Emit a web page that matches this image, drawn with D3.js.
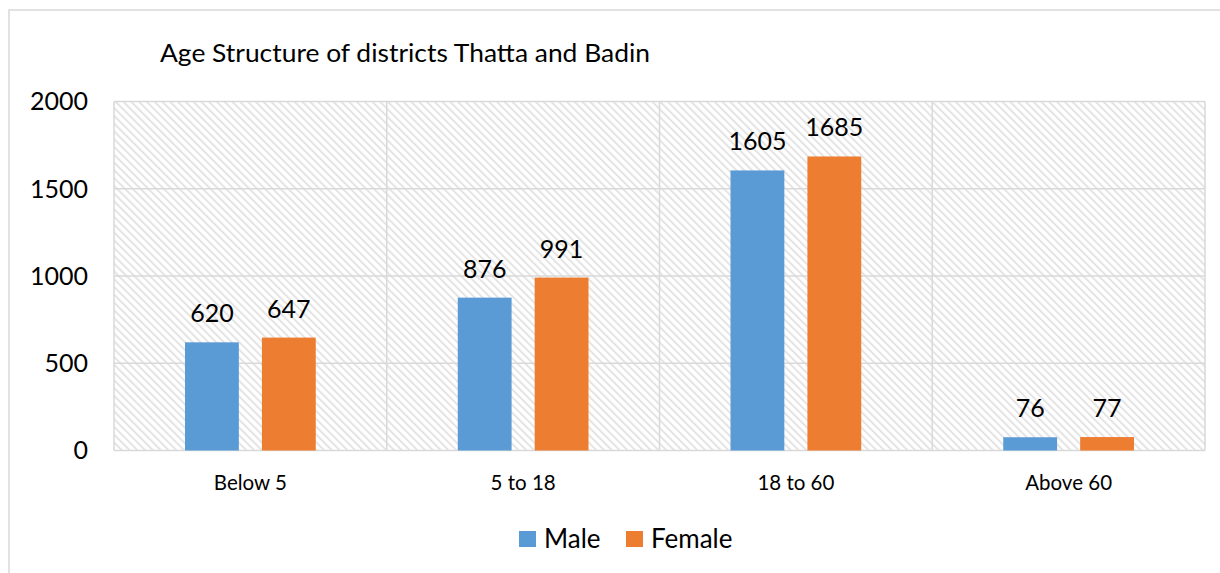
<!DOCTYPE html>
<html>
<head>
<meta charset="utf-8">
<script src="https://cdn.jsdelivr.net/npm/d3@7"></script>
<style>
  body { margin: 0; background: #fff; }
  text { font-family: Lato, "Open Sans", sans-serif; fill: #000; }
</style>
</head>
<body>
<div id="plot"></div>
<script>
// chart data
const categories = ["Below 5", "5 to 18", "18 to 60", "Above 60"];
const seriesNames = ["Male", "Female"];
const maleValues = [620, 876, 1605, 76];
const femaleValues = [647, 991, 1685, 77];
const yTicks = [0, 500, 1000, 1500, 2000];

const width = 1220;
const height = 573;
const colors = ["#5B9BD5", "#ED7D31"];

const margin = { left: 114, right: 15, top: 101.5, bottom: 122.5 };
const plotW = width - margin.left - margin.right;
const plotH = height - margin.top - margin.bottom;

const svg = d3.select("div#plot")
  .append("svg")
  .attr("width", width)
  .attr("height", height);

// hatch fill for plot area
const defs = svg.append("defs");
defs.append("pattern")
  .attr("id", "hatch")
  .attr("patternUnits", "userSpaceOnUse")
  .attr("width", 5.5)
  .attr("height", 6)
  .attr("patternTransform", "rotate(-45)")
  .append("rect")
  .attr("width", 2)
  .attr("height", 6)
  .attr("fill", "#e4e4e4");

// outer chart frame
svg.append("rect")
  .attr("x", 9)
  .attr("y", 10)
  .attr("width", 1400)
  .attr("height", 800)
  .attr("fill", "none")
  .attr("stroke", "#d9d9d9")
  .attr("stroke-width", 1.5);

svg.append("text")
  .attr("x", 160)
  .attr("y", 62)
  .style("font-size", "25px")
  .attr("textLength", 490)
  .attr("lengthAdjust", "spacingAndGlyphs")
  .text("Age Structure of districts Thatta and Badin");

const g = svg.append("g")
  .attr("transform", `translate(${margin.left},${margin.top})`);

const x0 = d3.scaleBand()
  .domain(categories)
  .range([0, plotW])
  .paddingInner(0)
  .paddingOuter(0);

const x1 = d3.scaleBand()
  .domain(seriesNames)
  .range([71, x0.bandwidth() - 71])
  .paddingInner(0.3);

const y = d3.scaleLinear()
  .domain([0, 2000])
  .range([plotH, 0]);

g.append("rect")
  .attr("width", plotW)
  .attr("height", plotH)
  .attr("fill", "url(#hatch)");

// gridlines
g.selectAll(".hgrid")
  .data(yTicks)
  .enter().append("line")
  .attr("x1", 0)
  .attr("x2", plotW)
  .attr("y1", d => y(d))
  .attr("y2", d => y(d))
  .attr("stroke", "#d9d9d9")
  .attr("stroke-width", 1.5);

g.selectAll(".vgrid")
  .data(d3.range(categories.length + 1))
  .enter().append("line")
  .attr("x1", i => i * x0.bandwidth())
  .attr("x2", i => i * x0.bandwidth())
  .attr("y1", 0)
  .attr("y2", plotH)
  .attr("stroke", "#d9d9d9")
  .attr("stroke-width", 1.5);

// y axis labels
g.selectAll(".ylab")
  .data(yTicks)
  .enter().append("text")
  .attr("x", 88 - margin.left)
  .attr("y", d => y(d))
  .attr("dy", "0.35em")
  .attr("text-anchor", "end")
  .style("font-size", "25px")
  .text(d => d);

// category labels
g.selectAll(".xlab")
  .data(categories)
  .enter().append("text")
  .attr("x", d => x0(d) + x0.bandwidth() / 2)
  .attr("y", 490 - margin.top)
  .attr("text-anchor", "middle")
  .style("font-size", "20.5px")
  .text(d => d);

const rows = categories.map((c, i) => ({
  cat: c,
  vals: [maleValues[i], femaleValues[i]]
}));

const groups = g.selectAll(".grp")
  .data(rows)
  .enter().append("g")
  .attr("transform", d => `translate(${x0(d.cat)},0)`);

groups.selectAll("rect")
  .data(d => d.vals.map((v, i) => ({ s: seriesNames[i], v, i })))
  .enter().append("rect")
  .attr("x", d => x1(d.s))
  .attr("y", d => y(d.v))
  .attr("width", x1.bandwidth())
  .attr("height", d => plotH - y(d.v))
  .attr("fill", d => colors[d.i]);

groups.selectAll(".val")
  .data(d => d.vals.map((v, i) => ({ s: seriesNames[i], v, i })))
  .enter().append("text")
  .attr("x", d => x1(d.s) + x1.bandwidth() / 2)
  .attr("y", d => y(d.v) - 20)
  .attr("text-anchor", "middle")
  .style("font-size", "25px")
  .text(d => d.v);

// legend
const legendX = [519, 626];
const legend = svg.selectAll(".legend")
  .data(seriesNames)
  .enter().append("g")
  .attr("transform", (d, i) => `translate(${legendX[i]},531)`);

legend.append("rect")
  .attr("width", 17)
  .attr("height", 16)
  .attr("fill", (d, i) => colors[i]);

legend.append("text")
  .attr("x", 25)
  .attr("y", 16.5)
  .style("font-size", "26px")
  .text(d => d);
</script>
</body>
</html>
